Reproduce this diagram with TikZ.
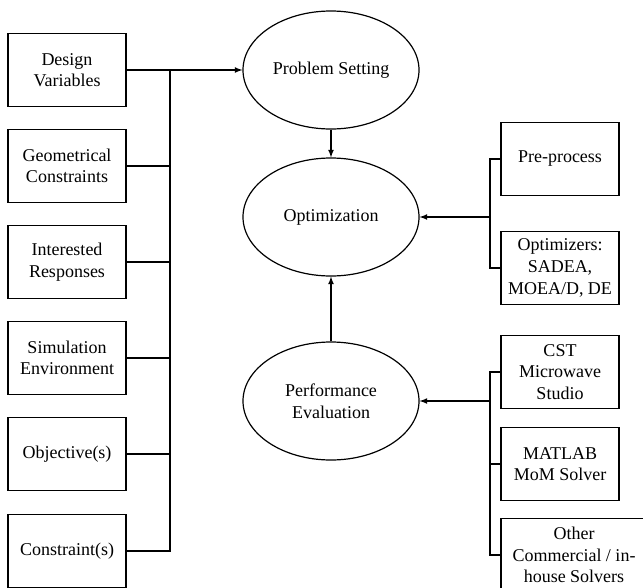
\documentclass[tikz,border=0pt]{standalone}
\usepackage{fontspec}
\setmainfont{Liberation Serif}
\usetikzlibrary{positioning,arrows,shapes.geometric,calc}

\tikzset{
  blockbox/.style={draw, line width=1.2pt, minimum width=118pt, minimum height=73pt,
                   inner sep=0pt, align=center, font=\fontsize{18}{21.6}\selectfont},
  stage/.style={draw, ellipse, line width=1.2pt, minimum width=176pt, minimum height=118pt,
                inner sep=0pt, align=center, font=\fontsize{18}{21.6}\selectfont},
  feed/.style={line width=1.3pt},
  flow/.style={line width=1.6pt, -latex}
}

\begin{document}
\begin{tikzpicture}[x=1pt,y=-1pt]

\useasboundingbox (0,0) rectangle (643,587);
\clip (0,0) rectangle (643,587);

%Inputs on the left
\node[blockbox] (design) at (67,70)  {Design\\Variables};
\node[blockbox] (geom)   at (67,166) {Geometrical\\Constraints};
\node[blockbox] (resp)   at (67,262) {Interested\\Responses};
\node[blockbox] (simenv) at (67,358) {Simulation\\Environment};
\node[blockbox] (obj)    at (67,454) {Objective(s)};
\node[blockbox] (cons)   at (67,551) {Constraint(s)};

%Main stages
\node[stage] (setting) at (331,70)  {Problem Setting};
\node[stage] (optim)   at (331,217) {Optimization};
\node[stage] (perf)    at (331,401) {Performance\\Evaluation};

%Tools on the right
\node[blockbox] (pre)   at (560,159) {Pre-process};
\node[blockbox] (algo)  at (560,268) {Optimizers:\\SADEA,\\MOEA/D, DE};
\node[blockbox] (cst)   at (560,372) {CST\\Microwave\\Studio};
\node[blockbox] (mom)   at (560,464) {MATLAB\\MoM Solver};
\node[blockbox, minimum width=146pt] (other) at (574,555) {Other\\Commercial / in-\\house Solvers};

%Bus lines
\coordinate (lbusA) at (170,70);
\coordinate (lbusB) at (170,551);
\coordinate (rbusA) at (490,159);
\coordinate (rbusB) at (490,268);
\coordinate (rbusC) at (490,372);
\coordinate (rbusD) at (490,555);

\draw[feed] (design.east) -- (lbusA) -- (lbusB) -- (cons.east);
\foreach \n in {geom,resp,simenv,obj}
{
	\draw[feed] (\n.east) -- (\n.east -| lbusA);
}
\draw[feed] (pre.west) -- (rbusA) -- (rbusB) -- (algo.west);
\draw[feed] (cst.west) -- (rbusC) -- (rbusD) -- (other.west);
\draw[feed] (mom.west) -- (mom.west -| rbusC);

%Arrows
\draw[flow] (lbusA) -- (setting.west);
\draw[flow] (setting.south) -- (optim.north);
\draw[flow] (perf.north) -- (optim.south);
\draw[flow] (optim.east -| rbusA) -- (optim.east);
\draw[flow] (perf.east -| rbusC) -- (perf.east);

\end{tikzpicture}
\end{document}
